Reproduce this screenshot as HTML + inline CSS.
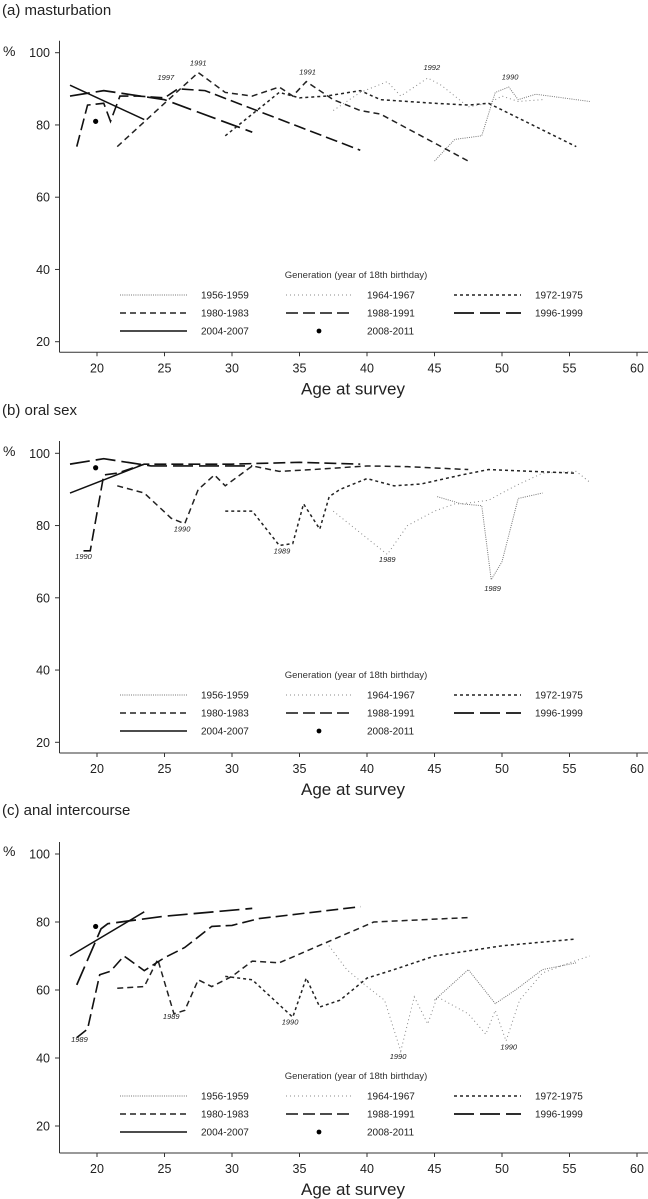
<!DOCTYPE html>
<html><head><meta charset="utf-8"><style>
html,body{margin:0;padding:0;background:#fff}
svg{display:block;font-family:"Liberation Sans",sans-serif}
</style></head><body>
<svg id="chart" width="648" height="1199" viewBox="0 0 648 1199" xmlns="http://www.w3.org/2000/svg"></svg>
<script>
const generations = ["1956-1959","1964-1967","1972-1975","1980-1983","1988-1991","1996-1999","2004-2007","2008-2011"];
const xTicks = [20,25,30,35,40,45,50,55,60];
const yTicks = [20,40,60,80,100];
const panelTitles = ["(a) masturbation","(b) oral sex","(c) anal intercourse"];
// [age, percent] per generation, panel a
const mastA = [
 [[45,70],[46.5,76],[48.5,77],[49.5,89],[50.5,90.5],[51.2,87],[52.5,88.5],[56.5,86.5]],
 [[37.5,84],[39.5,89],[41.5,92],[42.5,88],[44.5,93],[45.5,91],[47.5,85],[49,86],[50,88],[51.2,86.5],[53,87]],
 [[29.5,77],[33.5,89],[35,87.5],[37,88],[39.5,89.5],[41,87],[45,86],[47.5,85.5],[49,86],[55.5,74]],
 [[21.5,74],[25,86],[27.5,94.5],[29.5,89],[31.5,88],[33.5,90.5],[34.5,88],[35.5,92],[37.5,87],[39.5,84],[41,83],[47.5,70]],
 [[18.5,74],[19.3,85.5],[20.5,86],[21,81],[21.7,88],[23,88],[25,87.5],[26,90],[28,89.5],[39.5,73]],
 [[18,88],[20.5,89.5],[25,87],[31.5,78]],
 [[18,91],[23.5,81.5]],
 [[19.9,81]]
];
const oralB = [
 [[45.2,88],[47,86],[48.5,85.5],[49.2,65],[50,70],[51.2,87.5],[53,89]],
 [[37.5,84],[41.5,72],[43,80],[45,84],[46.5,86],[47,86],[49,87],[51,91],[53,94.5],[55.5,95],[56.5,92]],
 [[29.5,84],[31.5,84],[33.5,74.5],[34.5,75],[35.3,86],[36.5,79],[37.2,88],[38,90],[40,93],[42,91],[44,91.5],[47,94],[49,95.5],[55.5,94.5]],
 [[21.5,91],[23.5,89],[25.5,82],[26.5,80.5],[27.5,90],[28.7,94],[29.5,91],[31.5,96.5],[33.5,95],[36,95.5],[40,96.5],[43,96.3],[47.5,95.5]],
 [[19,73],[19.5,73],[20.5,94],[21.5,94.5],[23.5,97],[30,97],[35,97.5],[39.5,97]],
 [[18,97],[20.5,98.5],[24,96.5],[31.5,96.5]],
 [[18,89],[23.5,97]],
 [[19.9,96]]
];
const analC = [
 [[45,57],[47.5,66],[49.5,56],[51,60],[53,66],[55.5,68]],
 [[37,74],[38.5,66],[40,61],[41.3,57],[42.5,42],[43.5,58],[44.5,50],[45.2,58],[47.5,53],[48.8,47],[49.5,54],[50.3,45],[51.3,57],[53,65],[55,68],[56.5,70]],
 [[29.5,64],[31.5,63],[34.5,52],[35.5,63.5],[36.5,55],[38,57],[40,63.5],[42,66],[45,70],[50,73],[55.5,75]],
 [[21.5,60.5],[23.5,61],[24.5,69],[25.7,53],[26.5,54],[27.5,63],[28.5,61],[30,64],[31.5,68.5],[33.5,68],[37,74],[40.5,80],[47.5,81.3]],
 [[18.5,46],[19.3,48.5],[20.2,64.5],[21,65.5],[22,70],[23.5,65.7],[25,69.5],[26.5,72.5],[28.5,78.7],[30,79],[32,81],[39.5,84.5]],
 [[18.5,61.5],[20.3,78],[20.8,79.5],[25,81.7],[31.5,84]],
 [[18,70],[23.5,83]],
 [[19.9,78.7]]
];
const labelsA = [["1997",25.1,92.4],["1991",27.5,96.4],["1991",35.6,94],["1992",44.8,95.2],["1990",50.6,92.6]];
const labelsB = [["1990",26.3,78.4],["1990",19,70.8],["1989",33.7,72.3],["1989",41.5,69.9],["1989",49.3,61.9]];
const labelsC = [["1989",25.5,51.4],["1989",18.7,44.7],["1990",34.3,49.9],["1990",42.3,39.7],["1990",50.5,42.5]];

const styles = [
 {c:"#777",d:"1 1.2",w:1},{c:"#888",d:"1 3",w:1},{c:"#222",d:"3 3",w:1.5},
 {c:"#222",d:"6 4",w:1.5},{c:"#111",d:"12 5",w:1.6},{c:"#111",d:"20 6",w:1.7},{c:"#111",d:"",w:1.5}
];
const panels = [
 {data:mastA,labels:labelsA,top:0,y100:52.7,y20:341.7,axisY:352.3,axTop:40.7},
 {data:oralB,labels:labelsB,top:400,y100:53.3,y20:342.3,axisY:353,axTop:41},
 {data:analC,labels:labelsC,top:800,y100:54,y20:326,axisY:353,axTop:42}
];
const svg = document.getElementById('chart');
const NS = "http://www.w3.org/2000/svg";
function mk(tag, attrs, parent){const e=document.createElementNS(NS,tag);for(const k in attrs)e.setAttribute(k,attrs[k]);(parent||svg).appendChild(e);return e;}
const xS = a => 97 + (a-20)*13.5;
const slugs = ["a","b","c"];
panels.forEach((p,pi)=>{
 const g = mk('g',{});
 
 
 const T = p.top;
 const yS = v => T + p.y20 - (v-20)*(p.y20-p.y100)/80;
 const t = mk('text',{x:2,y:T+15,'font-size':15,fill:'#222'},g); t.textContent = panelTitles[pi];
  
 // axes
 const ya = mk('line',{x1:59.5,x2:59.5,y1:T+p.axTop,y2:T+p.axisY,stroke:'#333','stroke-width':1},g);
  
 const xa = mk('line',{x1:59.5,x2:648,y1:T+p.axisY,y2:T+p.axisY,stroke:'#333','stroke-width':1},g);
  
 const pc = mk('text',{x:3,y:T+56,'font-size':14,fill:'#222'},g); pc.textContent='%';
  
 yTicks.forEach(v=>{
  mk('line',{x1:55,x2:59.5,y1:yS(v),y2:yS(v),stroke:'#333'},g);
  const tx = mk('text',{x:50,y:yS(v)+4.5,'font-size':12.5,'text-anchor':'end',fill:'#222'},g); tx.textContent=v;
   
 });
 xTicks.forEach(a=>{
  mk('line',{x1:xS(a),x2:xS(a),y1:T+p.axisY,y2:T+p.axisY+4,stroke:'#333'},g);
  const tx = mk('text',{x:xS(a),y:T+p.axisY+20,'font-size':12.5,'text-anchor':'middle',fill:'#222'},g); tx.textContent=a;
   
 });
 const at = mk('text',{x:353,y:T+p.axisY+42,'font-size':17,'text-anchor':'middle',fill:'#222'},g); at.textContent='Age at survey';
  
 // series
 p.data.forEach((s,si)=>{
  if(si===7){
   const c = mk('circle',{cx:xS(s[0][0]),cy:yS(s[0][1]),r:2.6,fill:'#000'},g);
    
   return;
  }
  const st = styles[si];
  const pl = mk('polyline',{points:s.map(q=>xS(q[0])+','+yS(q[1])).join(' '),fill:'none',stroke:st.c,'stroke-width':st.w,'stroke-dasharray':st.d},g);
   
 });
 p.labels.forEach(l=>{
  const tx = mk('text',{x:xS(l[1]),y:yS(l[2]),'font-size':7.5,'font-style':'italic','text-anchor':'middle',fill:'#222'},g); tx.textContent=l[0];
   
 });
 // legend
 const ly = pi===2 ? T+276 : T+275;
 const lt = mk('text',{x:356,y:ly+3,'font-size':9.5,'text-anchor':'middle',fill:'#333'},g); lt.textContent='Generation (year of 18th birthday)';
  
 const cols=[120,286,454], rows=[ly+20,ly+38,ly+56];
 generations.forEach((gn,i)=>{
  const cx=cols[i%3], cy=rows[Math.floor(i/3)];
  const lg = mk('g',{},g);
   
  if(i===7) mk('circle',{cx:cx+33,cy:cy,r:2.4,fill:'#000'},lg);
  else { const st=styles[i]; mk('line',{x1:cx,x2:cx+67,y1:cy,y2:cy,stroke:st.c,'stroke-width':st.w,'stroke-dasharray':st.d},lg); }
  const tx = mk('text',{x:cx+81,y:cy+3.5,'font-size':10,fill:'#222'},lg); tx.textContent=gn;
 });
});
</script>
</body></html>
